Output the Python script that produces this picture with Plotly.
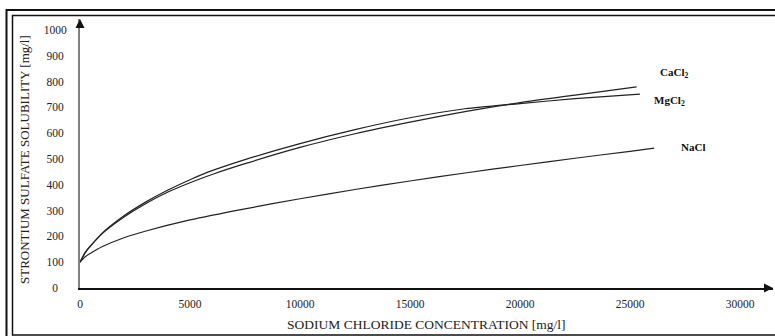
import plotly.graph_objects as go

# Sodium chloride concentration (mg/l) at which each curve is sampled
conc_nacl = [0, 250, 500, 1000, 2000, 3000, 5000, 7500, 10000, 12500, 15000, 17500, 20000, 22500, 25000, 26100]
sol_nacl = [100, 122, 136, 160, 195, 221, 264, 307, 346, 382, 415, 446, 475, 503, 530, 542]

conc_mgcl2 = [0, 250, 500, 1000, 2000, 3000, 4000, 5000, 6000, 7500, 10000, 12500, 15000, 17500, 20000, 22500, 25450]
sol_mgcl2 = [100, 138, 165, 212, 280, 334, 380, 420, 455, 498, 560, 614, 660, 695, 715, 734, 752]

conc_cacl2 = [0, 250, 500, 1000, 2000, 3000, 4000, 5000, 6000, 7500, 10000, 12500, 15000, 17500, 20000, 22500, 25300]
sol_cacl2 = [100, 140, 165, 210, 275, 328, 372, 408, 440, 482, 545, 598, 643, 684, 719, 748, 780]

series_names = ["CaCl<sub>2</sub>", "MgCl<sub>2</sub>", "NaCl"]
# curve-end label anchors (concentration, solubility)
label_x = [27000, 26800, 27850]
label_y = [833, 725, 547]

x_ticks = [0, 5000, 10000, 15000, 20000, 25000, 30000]
y_ticks = [0, 100, 200, 300, 400, 500, 600, 700, 800, 900, 1000]

X_MAX = 31500
Y_MAX = 1043

SERIF = "Liberation Serif, Times New Roman, serif"

fig = go.Figure()
for xs, ys in [(conc_cacl2, sol_cacl2), (conc_mgcl2, sol_mgcl2), (conc_nacl, sol_nacl)]:
    fig.add_trace(go.Scatter(
        x=xs, y=ys, mode="lines",
        line=dict(color="#222", width=1.2, shape="spline", smoothing=0.8),
        showlegend=False, hoverinfo="skip",
    ))

# labels at the right end of each curve
for name, lx, ly in zip(series_names, label_x, label_y):
    fig.add_annotation(x=lx, y=ly, text="<b>%s</b>" % name, showarrow=False,
                       xanchor="center", yanchor="middle",
                       font=dict(family=SERIF, size=11, color="#111"))


def pad(v):
    # centre the tick numbers in a fixed-width column
    s = str(v)
    extra = {1: "\u2007\u2008", 3: "\u2008", 4: ""}[len(s)]
    return s + extra


# layout geometry (pixels)
W, H = 775, 336
L, R, T, B = 80, 2, 19, 48
pw, ph = W - L - R, H - T - B


def px(xp):
    return (xp - L) / pw


def py(yp):
    return (H - B - yp) / ph


fig.update_layout(
    width=W, height=H,
    margin=dict(l=L, r=R, t=T, b=B),
    paper_bgcolor="white", plot_bgcolor="white",
    xaxis=dict(
        range=[0, X_MAX], tickvals=x_ticks, ticktext=[str(v) for v in x_ticks],
        showgrid=False, zeroline=False, showline=True, linecolor="#111", linewidth=1.5,
        ticks="", ticklabelstandoff=4,
        tickfont=dict(family=SERIF, size=11.5, color="#222"),
    ),
    yaxis=dict(
        range=[0, Y_MAX], tickvals=y_ticks, ticktext=[pad(v) for v in y_ticks],
        showgrid=False, zeroline=False, showline=True, linecolor="#808080", linewidth=2,
        ticks="", ticklabelstandoff=9,
        tickfont=dict(family=SERIF, size=11.5, color="#222"),
    ),
)

# axis arrowheads
fig.add_annotation(x=0, y=Y_MAX, xref="x", yref="y", ax=0, ay=8, text="",
                   showarrow=True, arrowhead=2, arrowsize=1.2, arrowwidth=1.5, arrowcolor="#111")
fig.add_annotation(x=X_MAX, y=0, xref="x", yref="y", ax=-8, ay=0, text="",
                   showarrow=True, arrowhead=2, arrowsize=1.2, arrowwidth=1.5, arrowcolor="#111")

# axis titles
fig.add_annotation(x=px(24), y=py(160), xref="paper", yref="paper", textangle=-90,
                   xanchor="center", yanchor="middle",
                   text="STRONTIUM SULFATE SOLUBILITY [mg/l]", showarrow=False,
                   font=dict(family=SERIF, size=13, color="#222"))
fig.add_annotation(x=px(426), y=py(325), xref="paper", yref="paper",
                   xanchor="center", yanchor="middle",
                   text="SODIUM CHLORIDE CONCENTRATION [mg/l]", showarrow=False,
                   font=dict(family=SERIF, size=13.5, color="#222"))

# double frame around the figure
fig.add_shape(type="rect", xref="paper", yref="paper",
              x0=px(6.5), x1=px(1200), y0=py(600), y1=py(10),
              line=dict(color="#111", width=2), layer="above")
fig.add_shape(type="rect", xref="paper", yref="paper",
              x0=px(12.5), x1=px(1200), y0=py(335), y1=py(15.5),
              line=dict(color="#111", width=1.5), layer="above")

fig.write_html("out.html")
